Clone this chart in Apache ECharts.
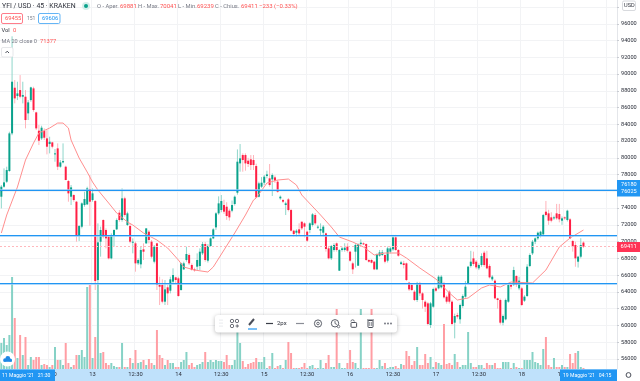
<!DOCTYPE html>
<html><head><meta charset="utf-8">
<style>html,body{margin:0;padding:0;background:#fff}#c{width:640px;height:381px}</style>
<script src="https://cdn.jsdelivr.net/npm/echarts@6/dist/echarts.min.js"></script>
</head><body><div id="c"></div>
<script>
// [open, close, low, high] per 45-minute candle
const candles=[
[75358,76551,73965,76750],[76551,77069,76432,78739],[77148,78540,77000,78938],[78421,82916,78342,83115],[82916,89082,82700,94500],[88366,87093,86497,89281],[87372,87690,86894,89082],[88088,87292,87093,89878],[87292,87491,86497,89082],[87292,84508,83513,88088],
[85303,86616,84508,86894],[86894,88406,86695,88485],[88287,85701,85502,88485],[85422,83513,83314,85502],[83234,82041,81524,83911],[82320,83593,82120,83831],[83195,82399,82120,83513],[82320,81325,80410,83314],[81643,81922,80530,82518],[81842,81325,81126,81922],
[80410,80530,79535,81046],[81126,78938,78540,81723],[78938,79455,78819,79734],[79455,79614,79336,81723],[78938,77347,77347,79057],[77228,75756,74761,77347],[75358,76472,74363,76750],[75557,74960,74761,75637],[74761,70783,69988,74841],[70783,71857,70067,71976],
[71778,74562,71579,74681],[74363,75080,74164,75955],[74443,76352,74363,76551],[76273,74761,71897,77944],[74960,75756,74761,76352],[74840,65293,64219,74960],[65412,69908,65000,72175],[69990,71382,68200,71780],[72575,70586,70387,72655],[71382,70387,69194,71581],
[70586,68001,67881,70785],[68001,70785,67881,70984],[70785,71382,69393,71462],[71462,72575,71382,72774],[73451,72575,72376,73769],[72575,75161,72376,76355],[75161,73172,72973,75360],[71979,73371,71859,73570],[71859,69990,69791,72178],[69870,69990,68597,70387],
[69791,67404,66409,69990],[67404,67802,67205,67998],[67285,68995,66807,69393],[69075,68796,67802,69791],[69791,71581,69711,71581],[71183,70188,69791,71382],[69990,68200,68001,70188],[67603,69393,67404,69592],[69791,64818,64222,69870],[64818,64619,62431,65813],
[64818,62829,62630,65495],[62829,64301,62431,65415],[64540,63824,62431,64818],[64142,65495,63824,65813],[65216,66012,65018,66807],[65733,65415,65018,65813],[65614,63506,63426,65813],[64222,67404,64142,67484],[66688,67404,66608,67603],[67802,68518,67603,69393],
[68399,67404,67205,68598],[67205,66608,66529,67404],[66688,66608,66409,66888],[67007,67802,66608,68598],[67086,68796,66608,69194],[68597,69711,68398,69950],[69711,67801,67600,69950],[67721,69472,67500,69700],[69472,70387,69400,70500],[70387,71461,70300,71600],
[71700,73370,71400,73500],[73370,74564,73200,75400],[73768,74842,73500,75560],[74365,73570,73300,75000],[74166,73052,72600,74700],[73689,72893,72500,73900],[73689,74365,73500,74900],[74484,75359,74300,75500],[75837,79536,75600,81000],[79337,79934,78343,81645],
[80332,79735,78343,80530],[80332,79337,78462,80530],[79656,79258,78900,80000],[79815,79138,78542,80332],[79735,79138,78542,80332],[79019,75280,75200,79300],[75359,76950,75280,77150],[76553,77030,76400,77700],[77030,77746,76750,77945],[77826,78025,77550,78462],
[77547,76752,76553,79258],[77428,77945,75439,78144],[77666,77269,77000,77900],[77150,75956,75836,77350],[75160,75359,75000,75500],[74961,74763,74600,75100],[74365,74564,73171,74763],[75041,73768,73600,75200],[73768,71302,71200,73900],[71302,70904,70586,71400],
[71063,71302,70586,71461],[71461,70984,70785,72180],[72376,71581,71382,72376],[72178,71780,70500,72300],[71183,70109,69950,71300],[71382,72178,71000,72300],[71979,73252,71800,73400],[73172,72178,72000,73400],[71700,71780,71500,72000],[71302,71501,70785,72178],
[71064,71780,70600,71980],[70984,69114,68800,71064],[69194,68001,67881,69393],[68001,69472,67800,69600],[68995,69592,68800,69800],[69791,68995,68800,69900],[66529,68995,66500,69100],[68995,69194,68800,69393],[68995,69274,68800,69800],[69393,68916,68700,69800],
[68797,67722,67600,68900],[67404,66688,66131,67603],[68797,69592,66900,69791],[67125,69711,67085,69791],[69711,69870,69592,70268],[69791,69711,69592,69900],[69711,67802,67700,69791],[67802,67603,67500,67900],[67802,67484,67400,67900],[67603,66688,66600,67700],
[66688,68518,66600,68600],[68318,68716,68200,69000],[68398,68716,68300,69000],[68398,67602,67400,68500],[67722,69193,67500,69400],[68796,69193,68600,69400],[69074,70506,68900,70800],[70506,68995,68900,70800],[68995,68318,68200,69100],[67324,67523,67200,67700],
[67403,67204,66800,67700],[67403,65414,65300,67500],[65096,64300,64100,65200],[64818,64221,64100,65000],[64022,63028,62900,64200],[63028,65016,62800,65200],[65016,63824,63500,65200],[63824,63028,62000,64000],[62829,62232,61600,63000],[62630,60164,60000,62800],
[60044,62630,59700,62800],[62232,64340,62100,64500],[64420,64141,64000,64600],[64420,65812,64300,66000],[64539,65812,64400,66000],[65016,63346,63200,65200],[63425,62829,62600,63600],[64022,62829,62600,64200],[62829,60164,60000,63000],[60323,61118,58450,61400],
[61238,61038,60800,61500],[60721,62431,60200,62600],[62312,63505,62100,63700],[63425,64619,63300,65300],[65016,67006,64900,67100],[67085,67602,66900,68900],[68000,67324,67100,68800],[67602,66926,66700,67800],[66807,67204,66600,67400],[67204,68278,67000,68600],
[68676,67204,67000,68900],[68000,66807,66700,68900],[67085,65733,65600,67300],[65494,65812,65300,66000],[65335,63226,63100,65500],[63226,63028,62000,63300],[63028,60323,60100,63200],[60323,61118,60000,61300],[60720,63028,60600,63200],[62829,64818,62700,65000],
[64818,64619,64300,65000],[64818,66608,64700,67000],[65892,64818,64600,66000],[64420,65335,64200,65800],[64420,62431,62300,64600],[62948,63425,62800,63600],[63505,67006,63400,67300],[67085,68398,66950,68600],[68596,69989,68400,70200],[69989,70387,69700,70500],
[70387,71063,70200,71200],[70785,71183,70500,71300],[70864,73171,70700,73300],[73569,73171,73000,74850],[73370,72495,72000,73800],[72893,72495,72300,73500],[72774,72893,72600,73100],[73370,72774,72600,74500],[73291,72654,72300,74500],[72495,72774,72000,73000],
[72893,72774,72600,73000],[72575,73689,72400,73800],[72654,70387,70300,72800],[70068,69393,68800,70200],[69591,68000,67000,70000],[67602,68199,66900,68300],[68199,69591,68000,70400],[69881,69411,69239,70041]
];
const volumes=[26,31,24,34,92,51,11,34,14,32,4,12,9,12,12,4,5,4,2,4,22,9,9,4,26,6,2,4,14,14,19,12,82,84,11,32,86,
16,17,6,4,6,3,2,2,26,2,2,11,6,19,6,7,9,4,10,6,4,39,14,11,4,9,6,6,2,2,7,9,17,4,6,2,4,5,
7,17,7,9,
7,9,8,8,7,14,4,4,9,40,26,8,2,5,6,7,11,7,7,12,1,3,16,1,3,4,1,9,27,16,1,1,1,2,6,1,3,4,1,1,9,1,6,14,2,2,60,6,1,1,6,19,7,6,1,60,1,1,1,60,1,1,9,3,6,1,2,2,3,1,5,4,
18,13,4,8,22,4,4,15,6,12,2,7,6,4,45,5,6,4,15,7,2,4,4,37,6,2,2,4,4,1,6,4,4,6,1,1,
7,7,7,1,6,2,1,1,9,9,9,17,7,6,4,20,32,4,2,11,2,2,4,2,2,15,6,16,18,2,1];
// MA 20 read at [candle index, value]
const maLine=[[0,71024],[2,73172],[6,76513],[9,79735],[12,81764],[14,82958],[18,83554],[21,84151],[23,84151],[25,83554],[26,82122],[29,79974],[32,78304],[34,77110],[36,76155],[40,74604],[43,73411],[47,72337],[49,71979],[53,71024],[58,70189],[62,69234],[66,67802],[68,66967],[72,66609],[77,66370],[79,66967],[83,68995],[87,71024],[91,73172],[94,74962],[95,75201],[99,76991],[103,77349],[107,77468],[110,76752],[112,75559],[119,73172],[123,71740],[126,70547],[131,69950],[135,69353],[139,68399],[143,68638],[148,68638],[151,68041],[156,66848],[162,65535],[167,63865],[170,63029],[174,63268],[179,64461],[182,64819],[186,64580],[190,65177],[198,65058],[203,66609],[208,69353],[212,70428],[217,71382]];
const drawnLevels=[76150,70710,65020];
const lastPrice=69411;
const dayLabels={18:'12:30',34:'13',50:'12:30',66:'14',82:'12:30',98:'15',114:'12:30',130:'16',146:'12:30',162:'17',178:'12:30',194:'18',210:'12:30',226:'19'};
const slotCount=230;
const categories=Array.from({length:slotCount},(_,i)=>dayLabels[i]||'');

const FONT='Roboto, "Liberation Sans", sans-serif';
const GREEN='#0aa28c',RED='#ff1f44',GREEN_W='#8fd6cb',RED_W='#ffb3ba',GREEN_V='#86d2c6',RED_V='#ff9ea4',BLUE='#2196f3';
const isTick=(i)=>dayLabels[i]!==undefined;

function T(x,y,text,fill,size,opt){return {type:'text',z:100,style:{x,y,text,fill,font:(size||5.8)+'px '+FONT,textVerticalAlign:'middle',textAlign:(opt&&opt.align)||'left'}}}
function R(x,y,w,h,fill,stroke,r,extra){return {type:'rect',z:100,shape:{x,y,width:w,height:h,r:r||0},style:Object.assign({fill:fill||'none',stroke:stroke||'none',lineWidth:1},extra||{})}}
function C(cx,cy,r,fill,stroke,lw){return {type:'circle',z:101,shape:{cx,cy,r},style:{fill:fill||'none',stroke:stroke||'none',lineWidth:lw||1}}}
function L(x1,y1,x2,y2,stroke,lw){return {type:'line',z:101,shape:{x1,y1,x2,y2},style:{stroke,lineWidth:lw||1}}}
const GREY='#787b86',DARK='#30333d',VAL='#ff5252',IC='#4a4e59';
const graphics=[
 {type:'rect',z:-1,shape:{x:0,y:369,width:617,height:12},style:{fill:'#bfe1fb'}},
 T(2,6,'YFI / USD · 45 · KRAKEN',DARK,6.9),
 C(86,6,4,'#d5efeb'),C(86,6,2,GREEN),
 T(97,6.5,'O - Aper.',GREY),T(120,6.5,'69881',VAL,6),T(138,6.5,'H - Max.',GREY),T(160,6.5,'70041',VAL,6),T(178,6.5,'L - Min.',GREY),T(197,6.5,'69239',VAL,6),T(215,6.5,'C - Chius.',GREY),T(241,6.5,'69411',VAL,6),T(259,6.5,'−233 (−0.33%)',VAL,6),
 R(1.5,13.5,21,10,'#fff','#ff7d8b',1.5),T(5,18.5,'69455',VAL,5.8),T(27,18.5,'151',GREY,5),
 R(38.5,13.5,21.5,10,'#fff','#64b5f6',1.5),T(42,18.5,'69606','#2196f3',5.8),
 T(1.5,31,'Vol',DARK,5.8),T(13,31,'0',VAL,5.8),
 T(1.5,41.5,'MA 20 close 0',GREY,5.6),T(40,41.5,'71377',VAL,5.8),
 R(1.5,47.5,11.5,9.5,'#fff','#e6e7ea',1.5),L(5.5,53,7.2,51.2,IC),L(7.2,51.2,9,53,IC),
 R(622.5,1,13,9.5,'#fff','#d8dade',1.5),T(624,6,'USD',DARK,5.6),
 R(617,180,23,9,BLUE),T(621,184.5,'76180','#fff',5.6),
 R(617,188,23,8.5,BLUE),T(621,192,'76025','#fff',5.6),
 R(617,242,23,10,'#ff3355'),T(620.5,247,'69411','#fff',5.8),
 R(0,369.5,55,11.5,BLUE),T(2,375.5,"11 Maggio '21   21:30",'#fff',5.1),
 R(560,369.5,57,11.5,BLUE),T(563,375.5,"19 Maggio '21   04:15",'#fff',5.1),
 C(628.5,375,2.4,'#fff',IC,1),
 C(7.5,359,7.5,'#fff'),C(5,360,1.8,'#1e88e5'),C(7.8,358.5,2.4,'#1e88e5'),C(10.4,360,1.6,'#1e88e5'),Object.assign(R(3.6,360,8.2,1.8,'#1e88e5'),{z:102}),
 R(215,315,182,17.5,'#fff','none',3,{shadowBlur:4,shadowColor:'rgba(0,0,0,.28)',shadowOffsetY:1}),
 C(220,320,.5,'#c5c8cf'),C(222,320,.5,'#c5c8cf'),C(220,323,.5,'#c5c8cf'),C(222,323,.5,'#c5c8cf'),C(220,326,.5,'#c5c8cf'),C(222,326,.5,'#c5c8cf'),
 C(232,321,1.7,'none',IC,.8),C(237,321,1.7,'none',IC,.8),C(232,326,1.7,'none',IC,.8),L(235.5,326,239,326,IC,.8),L(237.2,324.3,237.2,327.7,IC,.8),
 L(249,325,254,319,IC,2),L(248,329,257,329,BLUE,1.2),
 L(266,323.5,273,323.5,'#3a3d47',1.2),T(277,323.8,'2px',DARK,6),
 L(296,323.5,304,323.5,'#8a8d96',1.2),
 C(318,323.5,3.6,'none',IC,.9),C(318,323.5,1.3,'none',IC,.8),
 C(335,323.3,3.7,'none',IC,.9),L(335,321,335,323.5,IC,.8),L(335,323.5,337,324.5,IC,.8),C(338.5,326.5,1.3,'#fff',IC,.7),
 R(351,322.5,5.6,4.8,'none',IC,.8),{type:'arc',z:101,shape:{cx:352.6,cy:321.5,r:1.7,startAngle:Math.PI,endAngle:0},style:{stroke:IC,fill:'none',lineWidth:.8}},
 R(368,320.5,5,7,'none',IC,.8),L(367,320,374,320,IC,.9),L(369.7,322,369.7,326,IC,.6),L(371.4,322,371.4,326,IC,.6),
 C(385,323.5,.9,'#6a6d78'),C(388,323.5,.9,'#6a6d78'),C(391,323.5,.9,'#6a6d78')
];

const chart=echarts.init(document.getElementById('c'),null,{renderer:'canvas'});
chart.setOption({
 animation:false,backgroundColor:'#fff',
 grid:[
  {left:0,right:23,top:0,height:369,containLabel:false},
  {left:0,right:23,top:7,height:351.9,containLabel:false}
 ],
 xAxis:[
  {gridIndex:0,type:'category',data:categories,boundaryGap:true,
   axisLine:{show:false},axisTick:{show:false},
   axisLabel:{show:true,interval:(i)=>isTick(i),hideOverlap:false,color:'#2a2e39',fontSize:5.8,fontFamily:FONT,margin:3},
   splitLine:{show:true,interval:(i)=>isTick(i),lineStyle:{color:'#f2f3f5',width:1}}},
  {gridIndex:1,type:'category',data:categories,show:false}
 ],
 yAxis:[
  {gridIndex:0,type:'value',min:0,max:369,position:'right',axisLine:{show:true,lineStyle:{color:'#e4e6ea'}},axisTick:{show:false},axisLabel:{show:false},splitLine:{show:false}},
  {gridIndex:1,type:'value',min:56000,max:98000,interval:2000,position:'right',
   axisLine:{show:false},axisTick:{show:true,length:2,lineStyle:{color:'#c9ccd2'}},
   axisLabel:{color:'#2a2e39',fontSize:5.6,fontFamily:FONT,margin:4,formatter:(v)=>v===98000?'':String(v)},
   splitLine:{show:true,lineStyle:{color:'#f2f3f5',width:1}}}
 ],
 series:[
  {type:'bar',xAxisIndex:0,yAxisIndex:0,barWidth:2,barGap:0,silent:true,
   data:volumes.map((v,i)=>({value:v,itemStyle:{color:candles[i][1]>=candles[i][0]?GREEN_V:RED_V}}))},
  {type:'custom',xAxisIndex:1,yAxisIndex:1,silent:true,z:3,
   data:candles.map((c,i)=>[i,c[0],c[1],c[2],c[3]]),
   encode:{x:0,y:[1,2,3,4]},
   renderItem:(p,api)=>{
     const i=api.value(0),o=api.value(1),c=api.value(2),lo=api.value(3),hi=api.value(4);
     const up=c>=o;
     const a=api.coord([i,o]),b=api.coord([i,c]),l=api.coord([i,lo]),h=api.coord([i,hi]);
     const x=a[0];
     const top=Math.min(a[1],b[1]),ht=Math.max(Math.abs(a[1]-b[1]),1);
     return {type:'group',children:[
      {type:'line',shape:{x1:x,y1:h[1],x2:x,y2:l[1]},style:{stroke:up?GREEN_W:RED_W,lineWidth:1}},
      {type:'rect',shape:{x:x-1,y:top,width:2,height:ht},style:{fill:up?GREEN:RED}}
     ]};
   }},
  {type:'line',xAxisIndex:1,yAxisIndex:1,data:maLine,showSymbol:false,smooth:false,silent:true,z:4,
   lineStyle:{color:'#ff8f8f',width:1}},
  {type:'line',xAxisIndex:1,yAxisIndex:1,data:[],silent:true,z:5,
   markLine:{silent:true,symbol:'none',animation:false,label:{show:false},
    lineStyle:{color:'#90caf9',width:2.2,type:'solid',opacity:.7},
    data:drawnLevels.map(v=>({yAxis:v}))}},
  {type:'line',xAxisIndex:1,yAxisIndex:1,data:[],silent:true,z:6,
   markLine:{silent:true,symbol:'none',animation:false,label:{show:false},
    lineStyle:{color:BLUE,width:1,type:'solid',opacity:1},
    data:drawnLevels.map(v=>({yAxis:v}))}},
  {type:'line',xAxisIndex:1,yAxisIndex:1,data:[],silent:true,z:2,
   markLine:{silent:true,symbol:'none',animation:false,label:{show:false},
    lineStyle:{color:'#ffb8bd',width:1,type:[2,2],opacity:1},
    data:[{yAxis:lastPrice}]}}
 ],
 graphic:{elements:graphics}
});
</script></body></html>
